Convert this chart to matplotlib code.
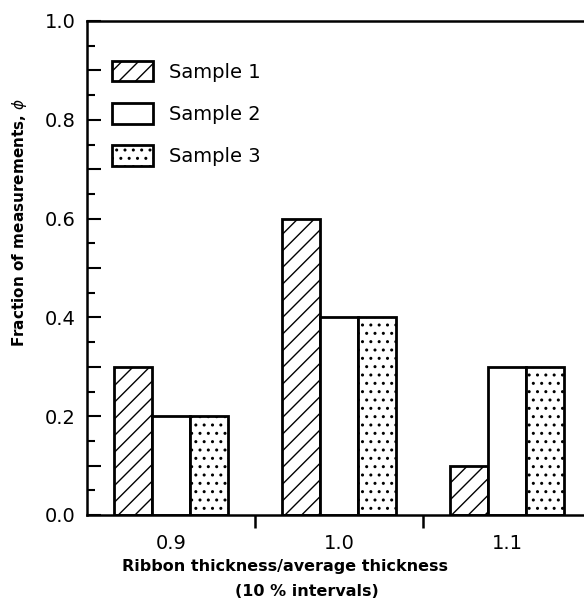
import numpy as np
import matplotlib
matplotlib.use('Agg')
from matplotlib import pyplot as plt
from matplotlib.ticker import MultipleLocator, FixedLocator

# ribbon thickness / average thickness (group centres)
groups = [0.9, 1.0, 1.1]
group_labels = ['0.9', '1.0', '1.1']
sample1 = [0.3, 0.6, 0.1]
sample2 = [0.2, 0.4, 0.3]
sample3 = [0.2, 0.4, 0.3]
names = ['Sample 1', 'Sample 2', 'Sample 3']

plt.rcParams['hatch.linewidth'] = 1.0
plt.rcParams['font.family'] = 'DejaVu Sans'

fig = plt.figure(figsize=(5.84, 6.02), dpi=100)
ax = fig.add_axes([87 / 584, 1 - 515 / 602, 1 - 87 / 584, (515 - 21) / 602])

w = 0.0225
x = np.array(groups)
style = dict(width=w, edgecolor='black', linewidth=2.0, facecolor='white')
ax.bar(x - w, sample1, hatch='//', label=names[0], **style)
ax.bar(x, sample2, label=names[1], **style)
ax.bar(x + w, sample3, hatch='..', label=names[2], **style)

ax.set_xlim(0.85, 0.85 + (584 - 87) / 168 * 0.1)
ax.set_ylim(0, 1.0)

ax.spines['right'].set_visible(False)
for s in ['left', 'bottom', 'top']:
    ax.spines[s].set_linewidth(1.8)

# y axis: inward ticks, labels every 0.2
yt = np.arange(0, 1.01, 0.1)
ax.set_yticks(yt)
ax.set_yticklabels(['%.1f' % v if round(v * 10) % 2 == 0 else '' for v in yt])
ax.yaxis.set_minor_locator(MultipleLocator(0.05))
ax.tick_params(axis='y', which='major', direction='in', length=10, width=1.5,
               labelsize=14, pad=8, right=False)
ax.tick_params(axis='y', which='minor', direction='in', length=6, width=1.5,
               right=False)

# x axis: labels at group centres, marks at group boundaries
ax.set_xticks(groups)
ax.set_xticklabels(group_labels)
ax.xaxis.set_minor_locator(FixedLocator([0.95, 1.05]))
ax.tick_params(axis='x', which='major', length=0, labelsize=14, pad=14)
ax.tick_params(axis='x', which='minor', direction='out', length=9, width=1.8)

fig.text(20 / 584, 1 - 222 / 602, 'Fraction of measurements, $\\phi$',
         rotation=90, ha='center', va='center', fontsize=11,
         fontweight='bold')

fig.text(285 / 584, 1 - 566 / 602, 'Ribbon thickness/average thickness',
         ha='center', va='center', fontsize=11.5, fontweight='bold')
fig.text(307 / 584, 1 - 591 / 602, '(10 % intervals)',
         ha='center', va='center', fontsize=11.5, fontweight='bold')

leg = ax.legend(loc='upper left', bbox_to_anchor=(0.035, 0.935), frameon=False,
                fontsize=14, handlelength=2.1, handleheight=1.25,
                labelspacing=1.1, handletextpad=0.8, borderaxespad=0)

fig.savefig('out.png', dpi=100)
